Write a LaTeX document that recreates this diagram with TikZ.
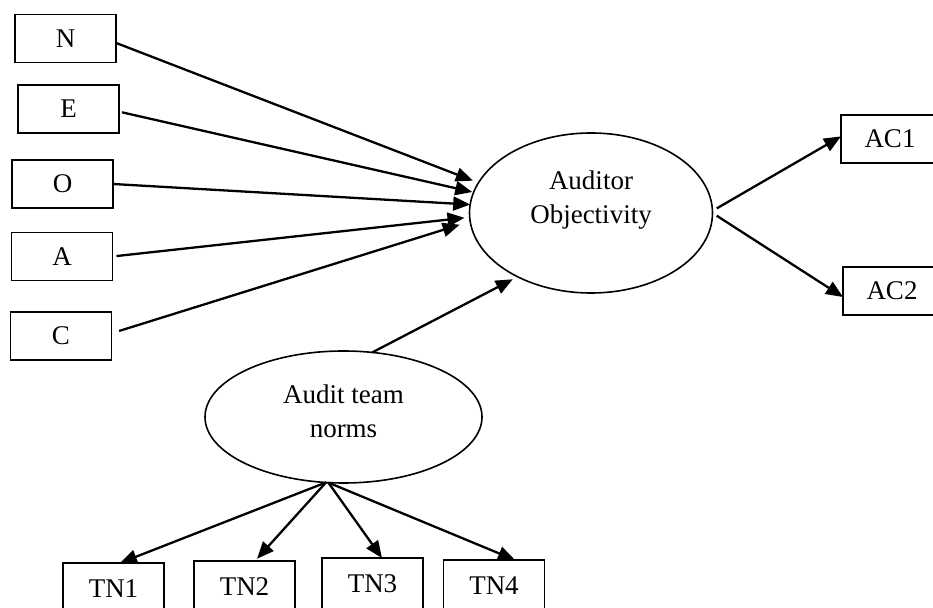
\documentclass[tikz,border=0pt]{standalone}
\usepackage{fontspec}
\setmainfont{Liberation Serif}
\usetikzlibrary{shapes.geometric,arrows.meta}
\begin{document}
\begin{tikzpicture}[x=0.5pt,y=-0.5pt,
  box/.style={draw,line width=0.8pt,rectangle,minimum width=50.5pt,minimum height=24pt,inner sep=0pt,outer sep=0pt,font=\fontsize{13.5pt}{16pt}\selectfont},
  tnbox/.style={box,minimum height=26pt},
  latent/.style={draw,line width=0.8pt,ellipse,inner sep=0pt,outer sep=0pt},
  lbl/.style={align=center,font=\fontsize{13.5pt}{17pt}\selectfont},
  arr/.style={line width=1.15pt,-{Triangle[length=8.5pt,width=7pt]}}]
\useasboundingbox (0,0) rectangle (933,608);

% indicator boxes on the left
\node[box] (N) at (65.5,38.5) {N};
\node[box] (E) at (68.5,109) {E};
\node[box] (O) at (62.5,184) {O};
\node[box] (A) at (62,256.5) {A};
\node[box] (C) at (61,336) {C};

% latent constructs
\node[latent,minimum width=121.5pt,minimum height=80pt] (ao) at (591,213) {};
\node[lbl] (aotext) at (591,200) {Auditor\\Objectivity};
\node[latent,minimum width=138.5pt,minimum height=66pt] (atn) at (343.5,417) {};
\node[lbl] (atntext) at (343.5,411) {Audit team\\norms};

% outcome boxes
\node[box,minimum width=49pt] (AC1) at (890,139) {AC1};
\node[box,minimum width=49pt] (AC2) at (892,291) {AC2};

% team norm indicators
\node[tnbox] (TN1) at (113.5,589) {TN1};
\node[tnbox] (TN2) at (244.5,587) {TN2};
\node[tnbox] (TN3) at (372.5,584) {TN3};
\node[tnbox] (TN4) at (494,586) {TN4};

% paths into auditor objectivity
\draw[arr,shorten >=3pt] (N.-5) -- (ao.165.8);
\draw[arr,shorten <=1.5pt,shorten >=0.7pt] (E.-3) -- (ao.170.9);
\draw[arr] (O.east) -- (ao.176.7);
\draw[arr,shorten <=2pt,shorten >=2.6pt] (A.east) -- (ao.182.3);
\draw[arr,shorten <=4pt,shorten >=5.5pt] (C.3.4) -- (ao.184.8);
\draw[arr,shorten >=2.75pt] (atn.66) -- (ao.221.8);

% paths out of auditor objectivity
\draw[arr,shorten <=2.5pt] (ao.1.4) -- (AC1.177);
\draw[arr,shorten <=2.5pt] (ao.-0.5) -- (AC2.187);

% paths out of audit team norms
\draw[arr] (atn.255) -- ([xshift=3.25pt]TN1.north);
\draw[arr,shorten >=1.5pt] (atn.255) -- ([xshift=5.25pt]TN2.north);
\draw[arr] (atn.257) -- ([xshift=4.75pt]TN3.north);
\draw[arr] (atn.257) -- ([xshift=10.5pt]TN4.north);
\end{tikzpicture}
\end{document}
